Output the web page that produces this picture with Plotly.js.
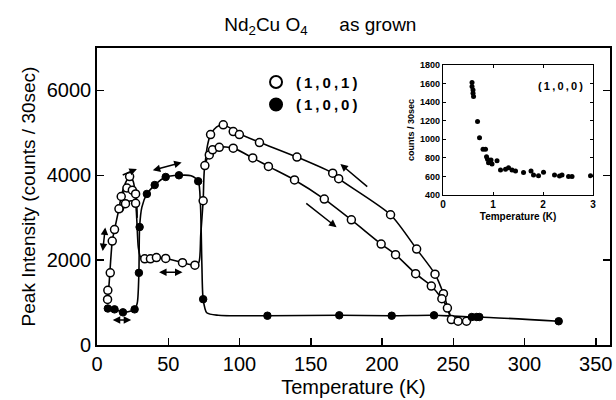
<!DOCTYPE html>
<html>
<head>
<meta charset="utf-8">
<script src="https://cdn.plot.ly/plotly-3.0.1.min.js"></script>
<style>html,body{margin:0;padding:0;background:#fff;}#chart{width:616px;height:400px;}</style>
</head>
<body>
<div id="chart"></div>
<script>
// ---- data ----
// (1,0,1) measured points (open circles)
const t101 = [7.4,7.6,9.3,10.7,12.3,15.4,17,20,21,22.9,24.8,27.1,27.1,
  33.5,37.5,41.7,48.2,60,68.7,74.5,75.7,
  79.7,88.6,95.6,99.9,114,140.3,165.4,169.6,206,224.3,237.2,243.1,
  78.8,81.1,85.8,95.6,109.3,120.3,138.6,159.5,178.5,199.4,209.5,223.6,234.6,242,245.9,248.7,253.4,259.3];
const i101 = [1073,1290,1700,2450,2720,3210,3500,3330,3700,3970,3650,3340,3560,
  2030,2030,2060,2040,1940,1880,3400,4230,
  4960,5190,5030,4960,4770,4430,4050,3920,3070,2260,1670,1210,
  4480,4600,4660,4640,4410,4210,3890,3440,2950,2380,2130,1680,1390,1090,870,600,560,560];
// (1,0,0) measured points (filled circles)
const t100 = [7.6,12.3,18.2,26.4,29.4,29.9,35,40.5,48.2,57.5,71,74.5,119.6,170,206.8,236.5,263,266.5,268.3,324];
const i100 = [860,840,770,840,1700,2780,3560,3770,3960,4000,3860,1080,690,700,690,700,660,660,660,560];

// guide curves drawn through the data
const curveOuterT = [7.2,8.5,10.7,12.3,15.4,17,20,22.9,25.5,27,28,29,30.5,33.5,41.7,48.2,60,68.7,71.5,72.8,74.5,75.7,78.8,85.8,95.6,109.3,120.3,138.6,159.5,178.5,199.4,209.5,223.6,234.6,242,245.9,248.7,253.4,259.3];
const curveOuterI = [1000,1450,2450,2720,3210,3500,3820,3990,3850,3500,2900,2300,2080,2030,2050,2040,1940,1880,1950,2600,3400,4230,4480,4660,4640,4410,4210,3890,3440,2950,2380,2130,1680,1390,1090,870,600,560,560];
const curveMidT = [17,21,24.8,27.1,28];
const curveMidI = [3500,3700,3650,3560,3000];
const curveLowT = [15.4,17.7,20,24,27.1,28];
const curveLowI = [3210,3150,3330,3400,3340,3000];
const curveUpperT = [75.7,77.5,79.7,84,88.6,95.6,99.9,114,140.3,165.4,169.6,206,224.3,237.2,243.1,246,248.7];
const curveUpperI = [4230,4700,4960,5140,5190,5070,4980,4780,4430,4050,3920,3070,2260,1670,1210,900,600];
const curve100T = [7.6,12.3,18.2,26.4,28.3,29.4,29.9,31.5,35,40.5,48.2,57.5,66,71,72.6,73.6,74.5,77,85,119.6,170,206.8,236.5,250,263,268.3,324];
const curve100I = [860,840,770,840,1000,1700,2780,3250,3560,3770,3960,4000,3990,3860,3300,1900,1080,760,700,690,700,690,700,680,660,660,560];

// inset: (1,0,0) below 3 K
const insetT = [0.58,0.58,0.6,0.6,0.61,0.69,0.73,0.8,0.85,0.87,0.89,0.91,0.96,0.98,1.08,1.15,1.25,1.31,1.38,1.45,1.61,1.76,1.81,1.91,2.01,2.23,2.33,2.38,2.51,2.58,2.95];
const insetC = [1610,1567,1531,1495,1459,1190,1017,892,892,813,784,748,777,734,770,669,676,694,669,658,641,658,616,608,644,616,605,616,598,598,608];

const xTicks = [0,50,100,150,200,250,300,350];
const yTicks = [0,2000,4000,6000];
const insetXTicks = [0,1,2,3];
const insetYTicks = [400,600,800,1000,1200,1400,1600,1800];
const seriesNames = ['(\u20091\u2009,\u20090\u2009,\u20091\u2009)', '(\u20091\u2009,\u20090\u2009,\u20090\u2009)'];

// hysteresis arrows [headT, headI, tailT, tailI, doubleHeaded]
const arrows = [
  [5.8,2770,3.9,2180,true],
  [24,590,10,590,true],
  [60,1714,42.5,1714,true],
  [59.4,4303,38.1,4108,true],
  [28,4150,17,3990,false],
  [170.8,4265,190.7,3702,false],
  [168.1,2777,145.8,3364,false]
];

const FONT = 'Liberation Sans, Arial, Helvetica, sans-serif';
const lineStyle = {color:'#000', width:1.6, shape:'spline', smoothing:0.7};

function lineTrace(x, y){
  return {x:x, y:y, type:'scatter', mode:'lines', line:lineStyle, showlegend:false, hoverinfo:'skip'};
}

const traces = [
  lineTrace(curveOuterT, curveOuterI),
  lineTrace(curveMidT, curveMidI),
  lineTrace(curveLowT, curveLowI),
  lineTrace(curveUpperT, curveUpperI),
  lineTrace(curve100T, curve100I),
  {x:t101, y:i101, type:'scatter', mode:'markers', name:seriesNames[0],
   marker:{symbol:'circle', size:8, color:'#fff', line:{color:'#000', width:1.5}}},
  {x:t100, y:i100, type:'scatter', mode:'markers', name:seriesNames[1],
   marker:{symbol:'circle', size:7.5, color:'#000', line:{color:'#000', width:1}}},
  {x:insetT, y:insetC, type:'scatter', mode:'markers', xaxis:'x2', yaxis:'y2', showlegend:false,
   marker:{symbol:'circle', size:5, color:'#000'}}
];

const annotations = arrows.map(a => ({
  x:a[0], y:a[1], ax:a[2], ay:a[3], xref:'x', yref:'y', axref:'x', ayref:'y',
  text:'', showarrow:true, arrowhead:2, startarrowhead:2, arrowsize:1, startarrowsize:1,
  arrowwidth:1.5, arrowcolor:'#000', arrowside: a[4] ? 'end+start' : 'end'
}));
annotations.push({
  x:0.78, y:0.84, xref:'x2 domain', yref:'y2 domain', text:'<b>' + seriesNames[1] + '</b>', showarrow:false,
  font:{family:FONT, size:11, color:'#000'}, xanchor:'center', yanchor:'middle'
});

const layout = {
  width:616, height:400,
  margin:{l:97, r:6, t:48, b:55},
  paper_bgcolor:'#fff', plot_bgcolor:'#fff',
  font:{family:FONT, color:'#000'},
  title:{text:'Nd<sub>2</sub>Cu O<sub>4</sub>\u00a0\u00a0\u00a0\u00a0\u00a0\u00a0as grown', font:{family:FONT, size:19, color:'#000'},
         xref:'container', x:0.52, xanchor:'center', yref:'container', y:0.94, yanchor:'middle'},
  showlegend:true,
  legend:{x:0.31, y:0.94, xanchor:'left', yanchor:'top', bgcolor:'rgba(0,0,0,0)',
          font:{family:FONT, size:15, color:'#000', weight:'bold'}, tracegroupgap:0, itemsizing:'constant'},
  xaxis:{range:[0,360], tickvals:xTicks, ticks:'inside', ticklen:7, tickwidth:1.5, tickcolor:'#000',
         showline:true, linecolor:'#000', linewidth:1.8, mirror:true, showgrid:false, zeroline:false,
         tickfont:{family:FONT, size:20}, title:{text:'Temperature (K)', font:{family:FONT, size:20}, standoff:6}},
  yaxis:{range:[0,7000], tickvals:yTicks, ticks:'inside', ticklen:7, tickwidth:1.5, tickcolor:'#000',
         showline:true, linecolor:'#000', linewidth:1.8, mirror:'ticks', showgrid:false, zeroline:false,
         tickfont:{family:FONT, size:20}, title:{text:'Peak Intensity (counts / 30sec)', font:{family:FONT, size:19}, standoff:6}},
  xaxis2:{domain:[0.6745,0.9669], anchor:'y2', range:[0,3], tickvals:insetXTicks, ticks:'inside', ticklen:3,
          tickcolor:'#000', showline:true, linecolor:'#000', linewidth:1.3, mirror:'ticks', showgrid:false, zeroline:false,
          tickfont:{family:FONT, size:10, weight:'bold'}, title:{text:'<b>Temperature (K)</b>', font:{family:FONT, size:10}, standoff:3}},
  yaxis2:{domain:[0.505,0.943], anchor:'x2', range:[400,1800], tickvals:insetYTicks, ticks:'inside', ticklen:3,
          tickcolor:'#000', showline:true, linecolor:'#000', linewidth:1.3, mirror:'ticks', showgrid:false, zeroline:false,
          tickfont:{family:FONT, size:9, weight:'bold'}, title:{text:'<b>counts / 30sec</b>', font:{family:FONT, size:9}, standoff:3}},
  annotations:annotations
};

Plotly.newPlot('chart', traces, layout, {displayModeBar:false, staticPlot:true});
</script>
</body>
</html>
